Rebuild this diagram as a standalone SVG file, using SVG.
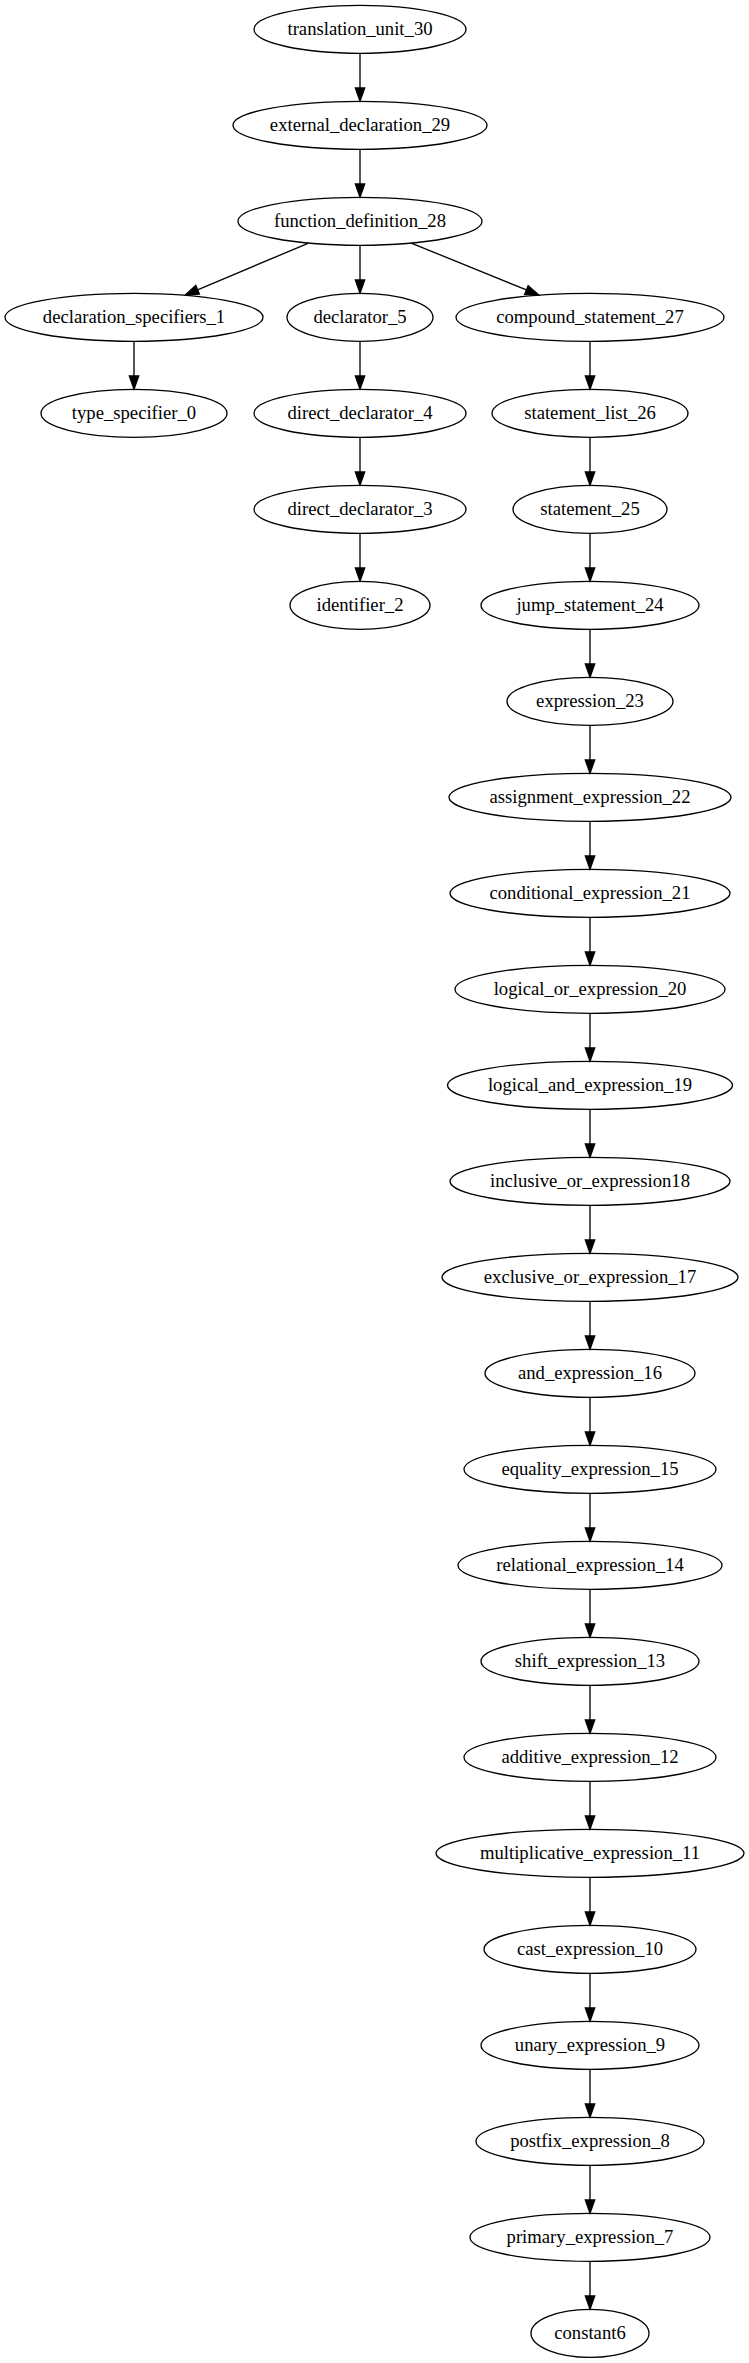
<svg xmlns="http://www.w3.org/2000/svg" width="749" height="2363" viewBox="0 0 749 2363">
<style>
.node ellipse{fill:none;stroke:#000;stroke-width:1.33}
.node text{font-family:"Liberation Serif","Times New Roman",serif;font-size:18.67px;text-anchor:middle;fill:#000}
.edge{fill:none;stroke:#000;stroke-width:1.33;marker-end:url(#ah)}
</style>
<defs>
<marker id="ah" markerUnits="userSpaceOnUse" orient="auto" viewBox="-1 -6 16 12" markerWidth="16" markerHeight="12" refX="0" refY="0" overflow="visible">
<path d="M0,-4.67 L13.33,0 L0,4.67 Z" fill="#000" stroke="#000" stroke-width="1.33"/>
</marker>
</defs>
<rect width="749" height="2363" fill="#fff"/>
<g id="edges">
<path class="edge" d="M360,53.3 V88"/>
<path class="edge" d="M360,149.3 V184"/>
<path class="edge" d="M308,243.3 L197.6,289.8"/>
<path class="edge" d="M360,245.3 V280"/>
<path class="edge" d="M411.8,243.3 L526.45,289.97"/>
<path class="edge" d="M134,341.3 V376"/>
<path class="edge" d="M360,341.3 V376"/>
<path class="edge" d="M360,437.3 V472"/>
<path class="edge" d="M360,533.3 V568"/>
<path class="edge" d="M590,341.3 V376"/>
<path class="edge" d="M590,437.3 V472"/>
<path class="edge" d="M590,533.3 V568"/>
<path class="edge" d="M590,629.3 V664"/>
<path class="edge" d="M590,725.3 V760"/>
<path class="edge" d="M590,821.3 V856"/>
<path class="edge" d="M590,917.3 V952"/>
<path class="edge" d="M590,1013.3 V1048"/>
<path class="edge" d="M590,1109.3 V1144"/>
<path class="edge" d="M590,1205.3 V1240"/>
<path class="edge" d="M590,1301.3 V1336"/>
<path class="edge" d="M590,1397.3 V1432"/>
<path class="edge" d="M590,1493.3 V1528"/>
<path class="edge" d="M590,1589.3 V1624"/>
<path class="edge" d="M590,1685.3 V1720"/>
<path class="edge" d="M590,1781.3 V1816"/>
<path class="edge" d="M590,1877.3 V1912"/>
<path class="edge" d="M590,1973.3 V2008"/>
<path class="edge" d="M590,2069.3 V2104"/>
<path class="edge" d="M590,2165.3 V2200"/>
<path class="edge" d="M590,2261.3 V2296"/>
</g>
<g id="translation_unit_30" class="node"><ellipse cx="360" cy="29.3" rx="106" ry="24"/><text x="360" y="34.9">translation_unit_30</text></g>
<g id="external_declaration_29" class="node"><ellipse cx="360" cy="125.3" rx="127" ry="24"/><text x="360" y="130.9">external_declaration_29</text></g>
<g id="function_definition_28" class="node"><ellipse cx="360" cy="221.3" rx="122" ry="24"/><text x="360" y="226.9">function_definition_28</text></g>
<g id="declaration_specifiers_1" class="node"><ellipse cx="134" cy="317.3" rx="129" ry="24"/><text x="134" y="322.9">declaration_specifiers_1</text></g>
<g id="declarator_5" class="node"><ellipse cx="360" cy="317.3" rx="73" ry="24"/><text x="360" y="322.9">declarator_5</text></g>
<g id="compound_statement_27" class="node"><ellipse cx="590" cy="317.3" rx="134" ry="24"/><text x="590" y="322.9">compound_statement_27</text></g>
<g id="type_specifier_0" class="node"><ellipse cx="134" cy="413.3" rx="93" ry="24"/><text x="134" y="418.9">type_specifier_0</text></g>
<g id="direct_declarator_4" class="node"><ellipse cx="360" cy="413.3" rx="106" ry="24"/><text x="360" y="418.9">direct_declarator_4</text></g>
<g id="statement_list_26" class="node"><ellipse cx="590" cy="413.3" rx="98" ry="24"/><text x="590" y="418.9">statement_list_26</text></g>
<g id="direct_declarator_3" class="node"><ellipse cx="360" cy="509.3" rx="106" ry="24"/><text x="360" y="514.9">direct_declarator_3</text></g>
<g id="statement_25" class="node"><ellipse cx="590" cy="509.3" rx="77" ry="24"/><text x="590" y="514.9">statement_25</text></g>
<g id="identifier_2" class="node"><ellipse cx="360" cy="605.3" rx="70" ry="24"/><text x="360" y="610.9">identifier_2</text></g>
<g id="jump_statement_24" class="node"><ellipse cx="590" cy="605.3" rx="109" ry="24"/><text x="590" y="610.9">jump_statement_24</text></g>
<g id="expression_23" class="node"><ellipse cx="590" cy="701.3" rx="83" ry="24"/><text x="590" y="706.9">expression_23</text></g>
<g id="assignment_expression_22" class="node"><ellipse cx="590" cy="797.3" rx="141" ry="24"/><text x="590" y="802.9">assignment_expression_22</text></g>
<g id="conditional_expression_21" class="node"><ellipse cx="590" cy="893.3" rx="140" ry="24"/><text x="590" y="898.9">conditional_expression_21</text></g>
<g id="logical_or_expression_20" class="node"><ellipse cx="590" cy="989.3" rx="135" ry="24"/><text x="590" y="994.9">logical_or_expression_20</text></g>
<g id="logical_and_expression_19" class="node"><ellipse cx="590" cy="1085.3" rx="142.5" ry="24"/><text x="590" y="1090.9">logical_and_expression_19</text></g>
<g id="inclusive_or_expression18" class="node"><ellipse cx="590" cy="1181.3" rx="140" ry="24"/><text x="590" y="1186.9">inclusive_or_expression18</text></g>
<g id="exclusive_or_expression_17" class="node"><ellipse cx="590" cy="1277.3" rx="148" ry="24"/><text x="590" y="1282.9">exclusive_or_expression_17</text></g>
<g id="and_expression_16" class="node"><ellipse cx="590" cy="1373.3" rx="105" ry="24"/><text x="590" y="1378.9">and_expression_16</text></g>
<g id="equality_expression_15" class="node"><ellipse cx="590" cy="1469.3" rx="126" ry="24"/><text x="590" y="1474.9">equality_expression_15</text></g>
<g id="relational_expression_14" class="node"><ellipse cx="590" cy="1565.3" rx="132" ry="24"/><text x="590" y="1570.9">relational_expression_14</text></g>
<g id="shift_expression_13" class="node"><ellipse cx="590" cy="1661.3" rx="109" ry="24"/><text x="590" y="1666.9">shift_expression_13</text></g>
<g id="additive_expression_12" class="node"><ellipse cx="590" cy="1757.3" rx="126" ry="24"/><text x="590" y="1762.9">additive_expression_12</text></g>
<g id="multiplicative_expression_11" class="node"><ellipse cx="590" cy="1853.3" rx="154" ry="24"/><text x="590" y="1858.9">multiplicative_expression_11</text></g>
<g id="cast_expression_10" class="node"><ellipse cx="590" cy="1949.3" rx="106" ry="24"/><text x="590" y="1954.9">cast_expression_10</text></g>
<g id="unary_expression_9" class="node"><ellipse cx="590" cy="2045.3" rx="109" ry="24"/><text x="590" y="2050.9">unary_expression_9</text></g>
<g id="postfix_expression_8" class="node"><ellipse cx="590" cy="2141.3" rx="114" ry="24"/><text x="590" y="2146.9">postfix_expression_8</text></g>
<g id="primary_expression_7" class="node"><ellipse cx="590" cy="2237.3" rx="120" ry="24"/><text x="590" y="2242.9">primary_expression_7</text></g>
<g id="constant6" class="node"><ellipse cx="590" cy="2333.3" rx="59" ry="24"/><text x="590" y="2338.9">constant6</text></g>
</svg>
